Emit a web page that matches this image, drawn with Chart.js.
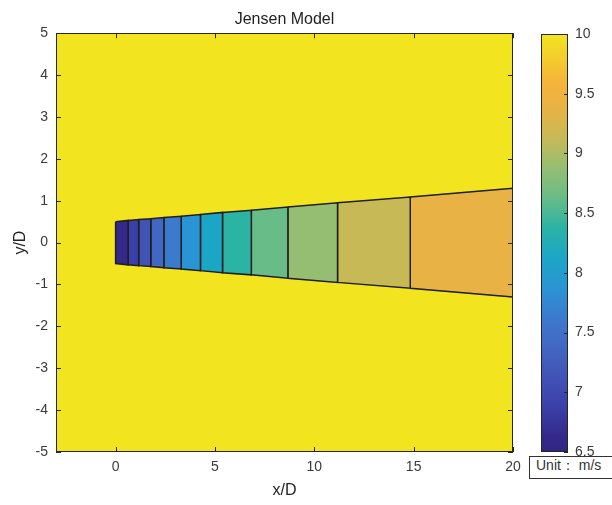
<!DOCTYPE html>
<html>
<head>
<meta charset="utf-8">
<script src="https://cdn.jsdelivr.net/npm/chart.js@4/dist/chart.umd.min.js"></script>
<style>
  body { margin: 0; background: #fff; }
  #wrap { position: relative; width: 612px; height: 505px; overflow: hidden; }
  #main { position: absolute; left: 0; top: 0; }
  #bar { position: absolute; left: 520px; top: 0; }
  #unit { position: absolute; left: 529px; top: 456px; width: 92px; height: 23px; border: 1px solid #333;
          box-sizing: border-box; padding-left: 6px; line-height: 21px; background: #fff;
          font: 14px 'Liberation Sans', Arial, sans-serif; color: #333; white-space: nowrap; }
</style>
</head>
<body>
<div id="wrap">
  <canvas id="main" width="612" height="505"></canvas>
  <canvas id="bar" width="92" height="505"></canvas>
  <div id="unit">Unit： m/s</div>
</div>
<script>
// wake sections (x/D boundaries), wake half width (y/D) at each boundary, speed in each section (m/s)
const wakeEdgeX = [0, 0.63, 1.16, 1.77, 2.43, 3.3, 4.27, 5.38, 6.83, 8.67, 11.17, 14.83, 20];
const wakeHalfWidth = [0.5, 0.53, 0.55, 0.57, 0.6, 0.63, 0.67, 0.72, 0.77, 0.85, 0.95, 1.09, 1.3];
const wakeSpeed = [6.63, 6.88, 7.13, 7.38, 7.63, 7.88, 8.13, 8.38, 8.63, 8.88, 9.13, 9.38];
const freeSpeed = 10;

const xTicks = [0, 5, 10, 15, 20];
const yTicks = [-5, -4, -3, -2, -1, 0, 1, 2, 3, 4, 5];
const barTicks = [6.5, 7, 7.5, 8, 8.5, 9, 9.5, 10];

// colour map (approximation of the picture's palette)
const cmap = [
  [6.5, '#2f2683'], [6.63, '#34298a'], [6.88, '#3b40a8'], [7.13, '#4253b6'], [7.38, '#4267c3'],
  [7.63, '#3b7bcd'], [7.88, '#2a95d4'], [8.13, '#1ca6c6'], [8.38, '#2bb3a4'], [8.63, '#68bc87'],
  [8.88, '#96be72'], [9.13, '#c8b957'], [9.38, '#e8b244'], [9.6, '#f6b43a'], [9.8, '#f4cd2c'], [10, '#f2e41e']
];

function hexToRgb(h) {
    return [parseInt(h.slice(1, 3), 16), parseInt(h.slice(3, 5), 16), parseInt(h.slice(5, 7), 16)];
}

function colorAt(v) {
    if (v <= cmap[0][0]) return cmap[0][1];
    for (let i = 1; i < cmap.length; i++) {
        if (v <= cmap[i][0]) {
            const t = (v - cmap[i - 1][0]) / (cmap[i][0] - cmap[i - 1][0]);
            const a = hexToRgb(cmap[i - 1][1]);
            const b = hexToRgb(cmap[i][1]);
            const c = a.map((x, k) => Math.round(x + (b[k] - x) * t));
            return 'rgb(' + c.join(',') + ')';
        }
    }
    return cmap[cmap.length - 1][1];
}

const fontFamily = "'Liberation Sans', Arial, sans-serif";
const textColor = '#3a3a3a';
const axisColor = '#262626';

function tickList(values) {
    return scale => { scale.ticks = values.map(v => ({ value: v })); };
}

// yellow field + box with inward ticks (MATLAB style)
const frame = {
    id: 'frame',
    beforeDatasetsDraw(chart) {
        const { ctx, chartArea: a } = chart;
        ctx.save();
        ctx.fillStyle = colorAt(freeSpeed);
        ctx.fillRect(a.left, a.top, a.width, a.height);
        ctx.restore();
    },
    afterDatasetsDraw(chart) {
        const { ctx, chartArea: a, scales } = chart;
        ctx.save();
        ctx.strokeStyle = axisColor;
        ctx.lineWidth = 1;
        ctx.beginPath();
        scales.x.ticks.forEach(t => {
            const px = Math.round(scales.x.getPixelForValue(t.value)) + 0.5;
            ctx.moveTo(px, a.bottom); ctx.lineTo(px, a.bottom - 5);
            ctx.moveTo(px, a.top); ctx.lineTo(px, a.top + 5);
        });
        scales.y.ticks.forEach(t => {
            const py = Math.round(scales.y.getPixelForValue(t.value)) + 0.5;
            ctx.moveTo(a.left, py); ctx.lineTo(a.left + 5, py);
            ctx.moveTo(a.right, py); ctx.lineTo(a.right - 5, py);
        });
        ctx.stroke();
        ctx.strokeRect(Math.round(a.left) + 0.5, Math.round(a.top) + 0.5, Math.round(a.width) - 1, Math.round(a.height) - 1);
        ctx.restore();
    }
};

const sections = wakeSpeed.map((speed, i) => ({
    data: [
        { x: wakeEdgeX[i], y: wakeHalfWidth[i] },
        { x: wakeEdgeX[i + 1], y: wakeHalfWidth[i + 1] },
        { x: wakeEdgeX[i + 1], y: -wakeHalfWidth[i + 1] },
        { x: wakeEdgeX[i], y: -wakeHalfWidth[i] },
        { x: wakeEdgeX[i], y: wakeHalfWidth[i] }
    ],
    showLine: true,
    fill: 'shape',
    backgroundColor: colorAt(speed),
    borderColor: '#1e1e1e',
    borderWidth: 1.5,
    pointRadius: 0,
    tension: 0
}));

new Chart(document.getElementById('main'), {
    type: 'scatter',
    data: { datasets: sections },
    options: {
        responsive: false,
        animation: false,
        layout: { padding: { left: 0, right: 99, top: 0, bottom: 0 } },
        plugins: {
            legend: { display: false },
            tooltip: { enabled: false },
            title: {
                display: true, text: 'Jensen Model', color: '#222', fullSize: false,
                font: { family: fontFamily, size: 16, weight: 'normal' },
                padding: { top: 10, bottom: 4 }
            }
        },
        scales: {
            x: {
                type: 'linear', min: -3, max: 20,
                afterBuildTicks: tickList(xTicks),
                afterFit: s => { s.height = 53; },
                grid: { display: false, drawTicks: false },
                border: { display: false },
                ticks: { padding: 7, color: textColor, font: { family: fontFamily, size: 14 } },
                title: { display: true, text: 'x/D', color: '#222', font: { family: fontFamily, size: 16 }, padding: { top: 0, bottom: 5 } }
            },
            y: {
                type: 'linear', min: -5, max: 5,
                afterBuildTicks: tickList(yTicks),
                afterFit: s => { s.width = 56; },
                grid: { display: false, drawTicks: false },
                border: { display: false },
                ticks: { padding: 8, color: textColor, font: { family: fontFamily, size: 14 } },
                title: { display: true, text: 'y/D', color: '#222', font: { family: fontFamily, size: 16 }, padding: { top: 11, bottom: 0 } }
            }
        }
    },
    plugins: [frame]
});

// colour bar
const barFrame = {
    id: 'barFrame',
    afterDatasetsDraw(chart) {
        const { ctx, chartArea: a, scales } = chart;
        ctx.save();
        ctx.strokeStyle = axisColor;
        ctx.lineWidth = 1;
        ctx.beginPath();
        scales.y.ticks.forEach(t => {
            const py = Math.round(scales.y.getPixelForValue(t.value)) + 0.5;
            ctx.moveTo(a.right, py); ctx.lineTo(a.right - 4, py);
        });
        ctx.stroke();
        ctx.strokeRect(Math.round(a.left) + 0.5, Math.round(a.top) + 0.5, Math.round(a.width) - 1, Math.round(a.height) - 1);
        ctx.restore();
    }
};

new Chart(document.getElementById('bar'), {
    type: 'bar',
    data: {
        labels: ['speed'],
        datasets: [{
            data: [[barTicks[0], barTicks[barTicks.length - 1]]],
            backgroundColor: ctx => {
                const chart = ctx.chart;
                if (!chart.chartArea) return null;
                const y = chart.scales.y;
                const g = chart.ctx.createLinearGradient(0, y.getPixelForValue(cmap[0][0]), 0, y.getPixelForValue(cmap[cmap.length - 1][0]));
                const span = cmap[cmap.length - 1][0] - cmap[0][0];
                cmap.forEach(([v, c]) => g.addColorStop((v - cmap[0][0]) / span, c));
                return g;
            },
            borderWidth: 0,
            barPercentage: 1,
            categoryPercentage: 1
        }]
    },
    options: {
        responsive: false,
        animation: false,
        layout: { padding: { left: 21, right: 0, top: 34, bottom: 53 } },
        plugins: { legend: { display: false }, tooltip: { enabled: false } },
        scales: {
            x: { display: false },
            y: {
                position: 'right', min: 6.5, max: 10,
                afterBuildTicks: tickList(barTicks),
                afterFit: s => { s.width = 44; },
                grid: { display: false, drawTicks: false },
                border: { display: false },
                ticks: { padding: 7, color: textColor, font: { family: fontFamily, size: 14 }, callback: v => String(v) }
            }
        }
    },
    plugins: [barFrame]
});
</script>
</body>
</html>
